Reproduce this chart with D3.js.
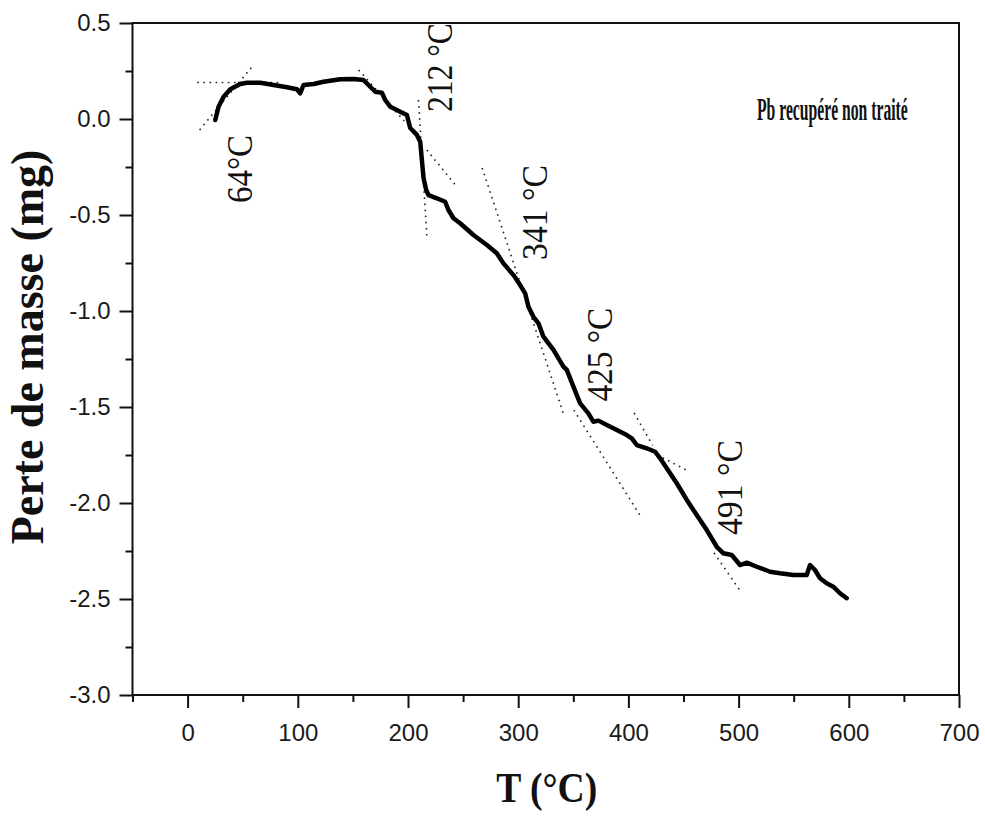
<!DOCTYPE html>
<html>
<head>
<meta charset="utf-8">
<script src="https://cdn.jsdelivr.net/npm/d3@7"></script>
<style>
  html, body { margin: 0; padding: 0; background: #fff; }
  svg { display: block; }
</style>
</head>
<body>
<svg id="chart" width="985" height="816"></svg>
<script>
// TGA curve: temperature (°C) and mass change (mg)
const temperature = [25.1, 28.1, 32.7, 38.7, 47.8, 53.9, 66.0, 78.0, 90.2, 99.2, 102.2, 105.2, 114.3, 123.4, 138.5, 150.6, 159.6, 165.7, 170.3, 176.3, 179.3, 183.9, 193.0, 199.0, 202.0, 208.1, 211.1, 212.6, 214.1, 216.5, 218.6, 226.2, 233.7, 236.7, 241.3, 247.3, 259.4, 271.6, 280.6, 286.6, 295.7, 301.8, 306.3, 309.3, 313.8, 318.4, 322.9, 332.0, 341.0, 344.1, 350.1, 356.2, 363.7, 368.3, 372.8, 380.4, 389.5, 398.5, 403.1, 407.6, 416.7, 424.2, 428.8, 434.8, 443.9, 453.0, 462.0, 471.1, 480.2, 486.2, 493.8, 501.3, 507.4, 516.5, 528.5, 537.6, 549.7, 561.8, 564.8, 569.3, 573.9, 579.9, 585.9, 592.0, 598.1];
const massLoss = [-0.005, 0.064, 0.116, 0.155, 0.182, 0.189, 0.189, 0.177, 0.165, 0.155, 0.134, 0.177, 0.182, 0.194, 0.207, 0.208, 0.203, 0.168, 0.142, 0.137, 0.099, 0.064, 0.038, 0.021, -0.047, -0.083, -0.118, -0.214, -0.307, -0.370, -0.396, -0.413, -0.431, -0.474, -0.517, -0.543, -0.604, -0.656, -0.699, -0.752, -0.813, -0.865, -0.908, -0.978, -1.030, -1.064, -1.134, -1.203, -1.290, -1.307, -1.394, -1.481, -1.533, -1.577, -1.571, -1.594, -1.620, -1.646, -1.663, -1.698, -1.715, -1.733, -1.767, -1.819, -1.897, -1.984, -2.063, -2.141, -2.228, -2.262, -2.271, -2.323, -2.311, -2.332, -2.358, -2.366, -2.375, -2.375, -2.323, -2.349, -2.392, -2.418, -2.436, -2.470, -2.496];

// Construction (tangent) lines: start and end points
const tangentStartT = [8.8, 10.9, 155.2, 209.5, 217.1, 267.3, 350.5, 405.2, 426.1, 477.7];
const tangentStartV = [0.19, -0.057, 0.255, 0.099, -0.161, -0.255, -1.516, -1.531, -1.750, -2.260];
const tangentEndT = [85.9, 59.0, 196.6, 217.1, 243.7, 340.8, 410.4, 422.0, 454.2, 502.2];
const tangentEndV = [0.19, 0.276, -0.010, -0.609, -0.349, -1.531, -2.063, -1.700, -1.833, -2.464];

// Onset temperature labels (rotated), anchored at the start of the text
const onsetLabels = ["64°C", "212 °C", "341 °C", "425 °C", "491 °C"];
const onsetT = [58.7, 240.1, 326.0, 385.0, 502.9];
const onsetV = [-0.4375, 0.036, -0.734, -1.472, -2.167];

const xMajorTicks = [0, 100, 200, 300, 400, 500, 600, 700];
const xMinorTicks = [-50, 50, 150, 250, 350, 450, 550, 650];
const yMajorTicks = [0.5, 0.0, -0.5, -1.0, -1.5, -2.0, -2.5, -3.0];
const yMinorTicks = [0.25, -0.25, -0.75, -1.25, -1.75, -2.25, -2.75];

const sampleName = "Pb recupéré non traité";
const xTitle = "T (°C)";
const yTitle = "Perte de masse (mg)";

const svg = d3.select("#chart");
const plotLeft = 132.5, plotRight = 959, plotTop = 23, plotBottom = 695;

const x = d3.scaleLinear().domain([-50, 700]).range([plotLeft, plotRight]);
const y = d3.scaleLinear().domain([-3, 0.5]).range([plotBottom, plotTop]);

const serif = "'Liberation Serif', 'Times New Roman', serif";
const sans = "'Liberation Sans', Arial, sans-serif";
const ink = "#111";

// Axes with major and minor ticks
const xMajor = d3.axisBottom(x).tickValues(xMajorTicks).tickSize(13).tickPadding(16).tickFormat(d3.format("d"));
const xMinor = d3.axisBottom(x).tickValues(xMinorTicks).tickSize(7).tickFormat("");
const yMajor = d3.axisLeft(y).tickValues(yMajorTicks).tickSize(13).tickPadding(9).tickFormat(d => d.toFixed(1));
const yMinor = d3.axisLeft(y).tickValues(yMinorTicks).tickSize(7).tickFormat("");

function styleAxis(g) {
  g.select(".domain").remove();
  g.selectAll(".tick line").attr("stroke", ink).attr("stroke-width", 2);
  g.selectAll(".tick text").attr("fill", "#1a1a1a").attr("font-family", sans).attr("font-size", 24);
}

svg.append("g").attr("transform", `translate(0,${plotBottom})`).call(xMajor).call(styleAxis);
svg.append("g").attr("transform", `translate(0,${plotBottom})`).call(xMinor).call(styleAxis);
svg.append("g").attr("transform", `translate(${plotLeft},0)`).call(yMajor).call(styleAxis);
svg.append("g").attr("transform", `translate(${plotLeft},0)`).call(yMinor).call(styleAxis);

// Plot frame
svg.append("rect")
  .attr("x", plotLeft).attr("y", plotTop)
  .attr("width", plotRight - plotLeft).attr("height", plotBottom - plotTop)
  .attr("fill", "none").attr("stroke", ink).attr("stroke-width", 2);

// Tangent construction lines
svg.append("g").selectAll("line")
  .data(tangentStartT.map((t, i) => i))
  .join("line")
  .attr("x1", i => x(tangentStartT[i])).attr("y1", i => y(tangentStartV[i]))
  .attr("x2", i => x(tangentEndT[i])).attr("y2", i => y(tangentEndV[i]))
  .attr("stroke", "#222").attr("stroke-width", 1.6)
  .attr("stroke-dasharray", "1.6,4.5");

// Mass-loss curve
const points = temperature.map((t, i) => [t, massLoss[i]]);
svg.append("path")
  .datum(points)
  .attr("fill", "none")
  .attr("stroke", "#000")
  .attr("stroke-width", 4.5)
  .attr("stroke-linejoin", "round")
  .attr("stroke-linecap", "round")
  .attr("d", d3.line().x(d => x(d[0])).y(d => y(d[1])));

// Onset labels
const labelLengths = [68, 89, 95, 94, 95];
svg.append("g").selectAll("text")
  .data(onsetLabels)
  .join("text")
  .attr("transform", (d, i) => `translate(${x(onsetT[i])},${y(onsetV[i])}) rotate(-90)`)
  .attr("font-family", serif).attr("font-size", 35).attr("fill", ink)
  .attr("textLength", (d, i) => labelLengths[i])
  .attr("lengthAdjust", "spacingAndGlyphs")
  .text(d => d);

// Sample name, set in a horizontally condensed bold face
svg.append("text")
  .attr("transform", `translate(${x(516.7)},${y(-0.005)}) scale(0.49,1)`)
  .attr("font-family", serif).attr("font-weight", "bold").attr("font-size", 32)
  .attr("fill", ink)
  .text(sampleName);

// Axis titles
svg.append("text")
  .attr("x", (plotLeft + plotRight) / 2 + 1).attr("y", 802)
  .attr("text-anchor", "middle")
  .attr("font-family", serif).attr("font-weight", "bold").attr("font-size", 43)
  .attr("fill", ink)
  .attr("textLength", 101).attr("lengthAdjust", "spacingAndGlyphs")
  .text(xTitle);

svg.append("text")
  .attr("transform", `translate(43,${(plotTop + plotBottom) / 2 - 12}) rotate(-90)`)
  .attr("text-anchor", "middle")
  .attr("font-family", serif).attr("font-weight", "bold").attr("font-size", 46)
  .attr("fill", ink)
  .text(yTitle);
</script>
</body>
</html>
